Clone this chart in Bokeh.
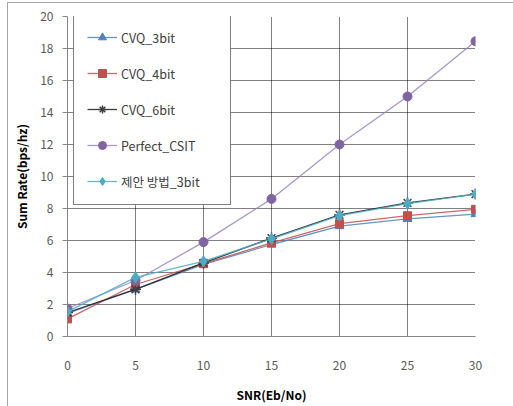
from bokeh.plotting import figure
from bokeh.models import Range1d, FixedTicker, Legend, LegendItem
from bokeh.embed import file_html
from bokeh.resources import INLINE

snr = [0, 5, 10, 15, 20, 25, 30]
cvq_3bit = [1.45, 2.95, 4.5, 5.75, 6.9, 7.35, 7.65]
cvq_4bit = [1.1, 3.25, 4.55, 5.85, 7.05, 7.55, 7.95]
cvq_6bit = [1.5, 2.95, 4.6, 6.15, 7.6, 8.35, 8.9]
perfect_csit = [1.75, 3.5, 5.9, 8.6, 12.0, 15.0, 18.45]
proposed_3bit = [1.55, 3.7, 4.7, 6.1, 7.55, 8.3, 8.9]

x_ticks = [0, 5, 10, 15, 20, 25, 30]
y_ticks = [0, 2, 4, 6, 8, 10, 12, 14, 16, 18, 20]

FONT = "Noto Sans CJK KR"

p = figure(width=505, height=403, output_backend="svg", toolbar_location=None,
           x_range=Range1d(0, 30), y_range=Range1d(0, 20),
           min_border_left=59, min_border_top=13, min_border_right=38, min_border_bottom=70)
p.styles = {"outline": "1px solid #a6a6a6", "margin-left": "8px", "margin-top": "3px"}
p.outline_line_color = None
p.background_fill_color = "white"
p.border_fill_color = "white"

p.xaxis.ticker = FixedTicker(ticks=x_ticks)
p.yaxis.ticker = FixedTicker(ticks=y_ticks)
for ax in (p.xaxis, p.yaxis):
    ax.axis_line_color = "#868686"
    ax.major_tick_line_color = "#868686"
    ax.minor_tick_line_color = None
    ax.major_label_text_font = FONT
    ax.major_label_text_font_size = "12px"
    ax.major_label_text_color = "#595959"
    ax.axis_label_text_font = FONT
    ax.axis_label_text_font_size = "12px"
    ax.axis_label_text_font_style = "bold"
    ax.axis_label_text_color = "#000000"
p.xaxis.major_tick_out = 0
p.xaxis.major_tick_in = 0
p.yaxis.major_tick_out = 5
p.yaxis.major_tick_in = 0
p.xaxis.major_label_standoff = 24
p.yaxis.major_label_standoff = 9
p.xaxis.axis_label = "SNR(Eb/No)"
p.yaxis.axis_label = "Sum Rate(bps/hz)"
p.xaxis.axis_label_standoff = 13
p.yaxis.axis_label_standoff = 7

for g in (p.xgrid, p.ygrid):
    g.grid_line_color = "black"
    g.grid_line_dash = "1 1"
    g.grid_line_alpha = 1.0

items = []
specs = [
    ("CVQ_3bit", cvq_3bit, "#4F81BD", "#4F81BD", "triangle", 9),
    ("CVQ_4bit", cvq_4bit, "#C0504D", "#C0504D", "square", 8),
    ("CVQ_6bit", cvq_6bit, "#1a1a1a", "#404040", "asterisk", 11),
    ("Perfect_CSIT", perfect_csit, "#9B85BE", "#8064A2", "circle", 9),
    ("제안 방법_3bit", proposed_3bit, "#4BACC6", "#4BACC6", "diamond", 11),
]
for label, ys, lc, mc, marker, size in specs:
    r1 = p.line(snr, ys, line_color=lc, line_width=1.3, line_alpha=0.85)
    r2 = p.scatter(snr, ys, marker=marker, size=size, fill_color=mc, line_color=mc,
                   line_width=1.5 if marker == "asterisk" else 1)
    items.append(LegendItem(label=label, renderers=[r1, r2]))

legend = Legend(items=items, location=(6, 131))
legend.border_line_color = "black"
legend.border_line_width = 1
legend.background_fill_color = "white"
legend.background_fill_alpha = 1
legend.label_text_font = FONT
legend.label_text_font_size = "12.5px"
legend.label_text_color = "#404040"
legend.glyph_width = 30
legend.glyph_height = 20
legend.label_height = 20
legend.spacing = 16
legend.padding = 13
legend.margin = 0
legend.label_standoff = 4
legend.label_width = 96
p.add_layout(legend, "center")

open("out.html", "w").write(file_html(p, INLINE))
